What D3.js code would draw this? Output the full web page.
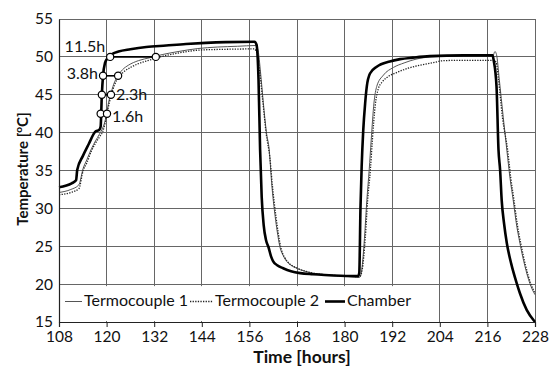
<!DOCTYPE html>
<html><head><meta charset="utf-8">
<script src="https://cdn.jsdelivr.net/npm/d3@7"></script>
<style>body{margin:0;background:#fff}svg{display:block}text{font-family:Lato,"Open Sans",sans-serif}</style>
</head><body><svg id="c" width="551" height="371"></svg>
<script>
// ---- data (hours, °C) ----
const xTicks = [108,120,132,144,156,168,180,192,204,216,228];
const yTicks = [15,20,25,30,35,40,45,50,55];

const chamberTime = [108,111.2,112.3,112.6,114,115.5,117.1,118.2,118.5,118.8,119.1,119.6,120.2,120.8,121.5,123,126,130,135,140,145,150,157.3,157.8,158.3,158.7,159.1,159.6,160.2,160.8,161.5,162,163,164.5,166.5,168.8,172,175,179,183.4,183.7,184,184.3,184.7,185.2,185.6,186.4,188.1,191.4,194,197.2,201.5,210,217.3,217.6,218.3,218.8,219.2,219.6,220.2,220.9,222,223.4,224.2,225.9,228];
const chamberTemp = [32.8,33.3,33.7,35.1,36.9,38.5,40.1,40.4,40.8,45,47.5,49.2,49.8,50.1,50.4,50.7,51.0,51.3,51.5,51.7,51.85,51.95,52.0,51.6,47,37.7,31.5,27.8,25.8,24.9,23.6,23.0,22.5,22.1,21.7,21.45,21.3,21.2,21.1,21.05,21.5,30,35.5,40.3,44,46.1,47.8,48.7,49.4,49.7,49.9,50.1,50.2,50.2,49.5,46.1,37.7,35.1,31.1,28,25.4,22.7,20.1,18.8,16.6,15.0];

const tc1Time = [108,111,113,114.1,115,116.2,117.2,118.2,119,119.6,120.0,120.5,121.0,121.8,122.7,124,125.5,128,131,134,138,143,148,153,157.6,158.2,158.8,159.5,160.3,161.0,161.6,162.5,163.0,163.7,164.5,165.4,166.5,167.9,170,172,175,179,183.8,184.3,185,185.6,186.2,186.7,187.4,188.1,189.8,192.3,195,198,202,210,217.4,217.9,218.3,219,220,220.9,221.7,222.5,223.3,224.2,225.4,226.7,228];
const tc1Temp = [32.1,32.5,33.1,35.3,36.4,37.9,38.9,39.8,40.6,41.5,42.5,44.0,45.0,46.4,47.4,48.3,48.9,49.5,49.9,50.3,50.7,51.1,51.3,51.4,51.5,50.8,48,44,40,37.7,33.4,28.9,27.0,24.9,23.8,23.0,22.5,22.1,21.7,21.45,21.25,21.1,20.9,21.8,26,31,35.1,39,43.9,46.1,47.6,48.6,49.2,49.7,50.0,50.15,50.15,50.7,50.3,47,42,37.7,34,31.1,28.0,25.4,22.5,20.1,18.6];

const tc2Time = [108,111,113,114.1,115,116.2,117.2,118.3,119,119.5,120.1,120.7,121.2,122.0,123.0,124.5,126,128,131,133.5,138,143.5,150,157.2,157.9,158.6,159.4,160.2,161.2,161.8,162.7,163.9,165.6,168.1,170.2,172,175,179,183.8,184.4,185.2,185.8,186.5,187,187.7,188.5,189.5,191,193,196,199,202,205,210,217.5,218.2,218.8,219.8,221.1,221.9,222.7,223.5,224.4,225.6,226.9,228];
const tc2Temp = [31.8,32.1,32.6,35.0,36.0,37.6,38.6,39.5,40.1,41.0,42.5,44.0,45.0,46.3,47.3,48.1,48.6,49.1,49.6,50.0,50.5,50.9,51.0,51.05,50.5,48,44,40,36.5,33,28.9,24.9,23.0,22.1,21.7,21.45,21.25,21.1,21.0,21.8,26,31,35.1,39,43.5,45.8,46.7,47.4,47.9,48.5,48.9,49.2,49.5,49.55,49.55,49.3,47,42,37.7,34,31.1,28,25.4,22.5,20.1,18.8];

// annotation: time for chamber and thermocouple to reach the same temperature
const annTemp = [42.5,45,47.5,50];
const annChamberTime = [118.5,118.8,119.1,120.9];
const annTcTime = [120.1,121.1,122.9,132.4];
const annLabel = ["1.6h","2.3h","3.8h","11.5h"];

const legendNames = ["Termocouple 1","Termocouple 2","Chamber"];

// ---- layout ----
const svg = d3.select("#c");
const m = {l:59, r:535, t:19, b:322};
const x = d3.scaleLinear().domain([108,228]).range([m.l,m.r]);
const y = d3.scaleLinear().domain([15,55]).range([m.b,m.t]);

// grid
svg.append("g").selectAll("line.v").data(xTicks).join("line")
  .attr("x1",d=>x(d)).attr("x2",d=>x(d)).attr("y1",m.t).attr("y2",m.b)
  .attr("stroke","#666").attr("stroke-width",1).attr("shape-rendering","crispEdges");
svg.append("g").selectAll("line.h").data(yTicks).join("line")
  .attr("x1",m.l).attr("x2",m.r).attr("y1",d=>y(d)).attr("y2",d=>y(d))
  .attr("stroke","#666").attr("stroke-width",1).attr("shape-rendering","crispEdges");

// series
const series = [
  {t:tc1Time, v:tc1Temp, w:1, dash:null, col:"#555"},
  {t:tc2Time, v:tc2Temp, w:1.3, dash:"1.3,1.3", col:"#222"},
  {t:chamberTime, v:chamberTemp, w:2.6, dash:null, col:"#000"}
];
const line = d3.line().x(d=>x(d[0])).y(d=>y(d[1])).curve(d3.curveMonotoneX);
series.forEach(s=>{
  svg.append("path").datum(s.t.map((t,i)=>[t,s.v[i]]))
    .attr("d",line).attr("fill","none").attr("stroke",s.col)
    .attr("stroke-width",s.w).attr("stroke-dasharray",s.dash)
    .attr("stroke-linejoin","round");
});

// annotations
const ann = annTemp.map((v,i)=>({v, a:annChamberTime[i], b:annTcTime[i], lab:annLabel[i]}));
svg.append("g").selectAll("line").data(ann).join("line")
  .attr("x1",d=>x(d.a)).attr("x2",d=>x(d.b)).attr("y1",d=>y(d.v)).attr("y2",d=>y(d.v))
  .attr("stroke","#000").attr("stroke-width",1.6);
const pts = ann.flatMap(d=>[[d.a,d.v],[d.b,d.v]]);
svg.append("g").selectAll("circle").data(pts).join("circle")
  .attr("cx",d=>x(d[0])).attr("cy",d=>y(d[1])).attr("r",3.6)
  .attr("fill","#fff").attr("stroke","#000").attr("stroke-width",1.2);
const labPos = [
  {i:0, side:"r", dy:4},
  {i:1, side:"r", dy:1},
  {i:2, side:"l", dy:-1},
  {i:3, side:"l", dy:-9}
];
svg.append("g").selectAll("text").data(labPos).join("text")
  .attr("x",d=> d.side==="l" ? x(ann[d.i].a)-5 : x(ann[d.i].b)+5)
  .attr("y",d=>y(ann[d.i].v)+d.dy)
  .attr("text-anchor",d=>d.side==="l"?"end":"start")
  .attr("dominant-baseline","middle")
  .attr("font-size",16).attr("fill","#111").text(d=>ann[d.i].lab);

// legend (white box inside plot)
const lg = svg.append("g");
lg.append("rect").attr("x",m.l+1).attr("y",y(20)+2).attr("width",x(204)-m.l-2).attr("height",m.b-y(20)-3).attr("fill","#fff");
const legY = 301.5;
const legItems = [
  {x0:65,x1:82,tx:84,s:series[0]},
  {x0:190,x1:213,tx:215,s:series[1]},
  {x0:325,x1:345,tx:347,s:series[2]}
];
legItems.forEach((d,i)=>{
  lg.append("line").attr("x1",d.x0).attr("x2",d.x1).attr("y1",legY).attr("y2",legY)
    .attr("stroke",d.s.col).attr("stroke-width",d.s.w).attr("stroke-dasharray",d.s.dash);
  lg.append("text").attr("x",d.tx).attr("y",legY).attr("dominant-baseline","middle")
    .attr("font-size",16).attr("fill","#111").text(legendNames[i]);
});

// axes
const xa = svg.append("g").attr("transform",`translate(0,${m.b})`)
  .call(d3.axisBottom(x).tickValues(xTicks).tickSize(5).tickFormat(d3.format("d")));
const ya = svg.append("g").attr("transform",`translate(${m.l},0)`)
  .call(d3.axisLeft(y).tickValues(yTicks).tickSize(0).tickPadding(6));
[xa,ya].forEach(a=>{
  a.select(".domain").attr("stroke","#222").attr("stroke-width",1.2);
  a.selectAll(".tick line").attr("stroke","#222");
  a.selectAll("text").attr("font-family","Lato").attr("font-size",15.5).attr("fill","#111");
});
xa.selectAll("text").attr("dy","0.8em");

// titles
svg.append("text").attr("x",302).attr("y",363).attr("text-anchor","middle")
  .attr("font-size",17.5).attr("font-weight","bold").attr("fill","#111").text("Time [hours]");
const yt = svg.append("text").attr("transform",`translate(28,169) rotate(-90)`)
  .attr("text-anchor","middle").attr("font-size",15).attr("font-weight","bold").attr("fill","#111");
yt.append("tspan").text("Temperature [");
yt.append("tspan").attr("font-size",10).attr("dy",-6).text("o");
yt.append("tspan").attr("dy",6).text("C]");
</script></body></html>
